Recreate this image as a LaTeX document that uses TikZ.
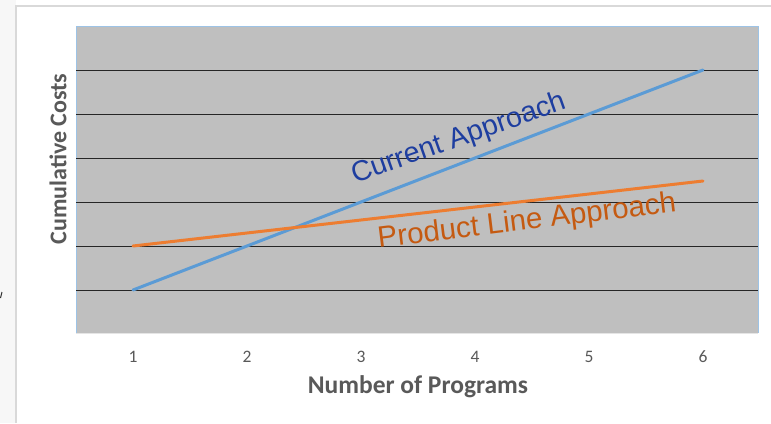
\documentclass[tikz,border=0pt]{standalone}
\usepackage{fontspec}
\setmainfont{Liberation Sans}
\newfontfamily\calfont{Carlito}
\definecolor{plotgray}{RGB}{191,191,191}
\definecolor{frameblue}{RGB}{157,195,230}
\definecolor{seriesblue}{RGB}{91,155,213}
\definecolor{seriesorange}{RGB}{237,125,49}
\definecolor{curtext}{RGB}{30,62,160}
\definecolor{pltext}{RGB}{197,90,17}
\definecolor{ticktext}{RGB}{89,89,89}
\definecolor{axtext}{RGB}{89,89,89}
\definecolor{outerframe}{RGB}{217,217,217}
\begin{document}
\begin{tikzpicture}[x=1pt,y=-1pt,
  gridline/.style={draw=black!85,line width=0.9pt},
  series/.style={line width=3pt,line cap=round},
  ticklabel/.style={font=\calfont\fontsize{17.5}{20}\selectfont,text=ticktext,inner sep=0pt},
  axislabel/.style={font=\calfont\bfseries\fontsize{24}{28}\selectfont,text=axtext,inner sep=0pt},
  datalabel/.style={font=\fontsize{28.5}{32}\selectfont,inner sep=0pt}]
\useasboundingbox (0,0) rectangle (771,423);
\fill[white] (0,0) rectangle (771,423);
\fill[black!3] (0,0) rectangle (16,423);
\draw[outerframe,line width=1.5pt] (16,423) -- (16,6) -- (771,6);
\draw[black!80,line width=1pt] (0.5,298) -- (2,292);
% plot area
\fill[plotgray] (76,26) rectangle (758,333);
\draw[frameblue,line width=1pt] (76,333) -- (76,26) -- (758,26) -- (758,333);
\draw[white!90!black,line width=0.8pt] (76,333) -- (758,333);
\foreach \y in {70,114.5,158.5,202.5,246,290}
  \draw[gridline] (76,\y) -- (758,\y);
% series
\coordinate (b1) at (133,290);
\coordinate (b6) at (703,70);
\coordinate (o1) at (133,246);
\coordinate (o6) at (703,181);
\draw[series,seriesblue] (b1) -- (b6);
\draw[series,seriesorange] (o1) -- (o6);
% data labels
\node[datalabel,text=curtext,rotate=19.5] (cur) at (459,139) {Current Approach};
\node[datalabel,text=pltext,rotate=7,font=\fontsize{29.5}{33}\selectfont] (pla) at (527,222) {Product Line Approach};
% ticks
\foreach \i/\x in {1/133,2/247,3/361,4/475,5/589,6/703}
  \node[ticklabel] (t\i) at (\x,357) {\i};
% axis titles
\node[axislabel,font=\calfont\bfseries\fontsize{25.5}{29}\selectfont] (xl) at (418,387) {Number of Programs};
\node[axislabel,rotate=90] (yl) at (58,159) {Cumulative Costs};
\end{tikzpicture}
\end{document}
